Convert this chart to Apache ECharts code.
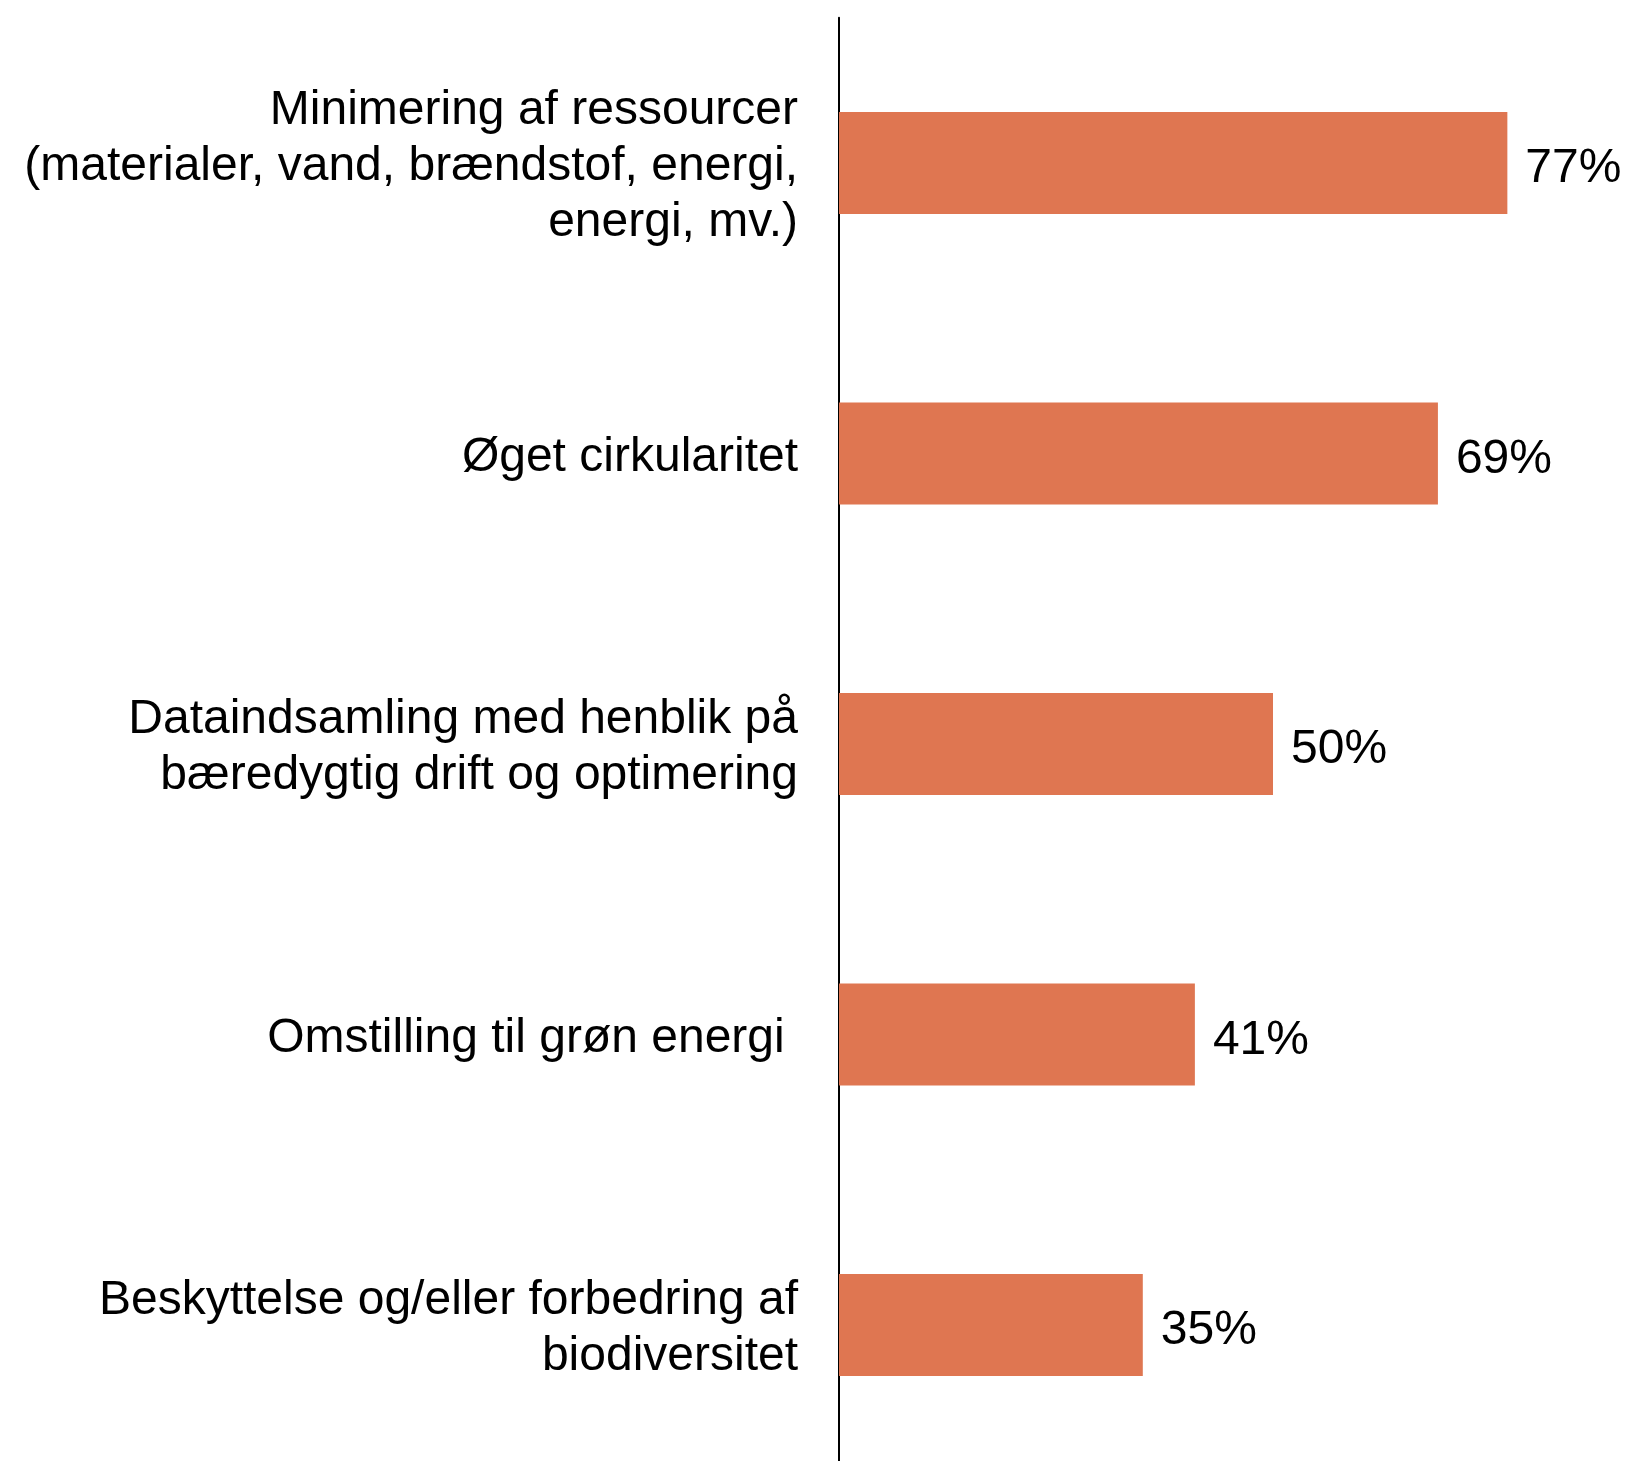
<!DOCTYPE html>
<html>
<head>
<meta charset="utf-8">
<script src="https://cdn.jsdelivr.net/npm/echarts@6/dist/echarts.min.js"></script>
<style>html,body{margin:0;padding:0;background:#fff;}#c{width:1633px;height:1461px;}</style>
</head>
<body>
<div id="c"></div>
<script>
const categories = [
  "Minimering af ressourcer\n(materialer, vand, brændstof, energi,\nenergi, mv.)",
  "Øget cirkularitet",
  "Dataindsamling med henblik på\nbæredygtig drift og optimering",
  "Omstilling til grøn energi ",
  "Beskyttelse og/eller forbedring af\nbiodiversitet"
];
const values = [77, 69, 50, 41, 35];

const chart = echarts.init(document.getElementById('c'), null, {renderer: 'canvas'});
chart.setOption({
  backgroundColor: '#ffffff',
  animation: false,
  grid: {left: 839, top: 17.75, width: 781.2, height: 1452.5, containLabel: false, outerBoundsMode: 'none'},
  xAxis: {
    type: 'value', min: 0, max: 90, show: false
  },
  yAxis: {
    type: 'category',
    data: categories,
    inverse: true,
    axisLine: {show: true, lineStyle: {color: '#000', width: 2}},
    axisTick: {show: false},
    axisLabel: {
      margin: 41,
      color: '#000',
      fontFamily: 'Liberation Sans, Arial, sans-serif',
      fontSize: 48,
      lineHeight: 56,
      align: 'right',
      formatter: function (v) {
        return v.split('\n').map(function (s) { return '{a|' + s + '}'; }).join('\n');
      },
      rich: {
        a: {
          color: '#000',
          fontFamily: 'Liberation Sans, Arial, sans-serif',
          fontSize: 48,
          lineHeight: 56,
          verticalAlign: 'bottom'
        }
      }
    }
  },
  series: [{
    type: 'bar',
    data: values,
    barWidth: 102,
    itemStyle: {color: '#DF7651'},
    label: {
      show: true,
      position: 'right',
      distance: 18,
      offset: [0, 6],
      formatter: '{c}%',
      color: '#000',
      fontFamily: 'Liberation Sans, Arial, sans-serif',
      fontSize: 48
    }
  }]
});
</script>
</body>
</html>
